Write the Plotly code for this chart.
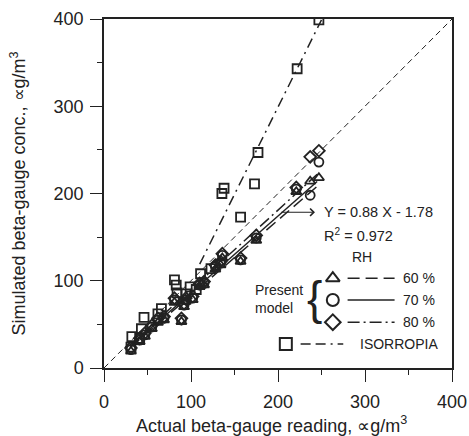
import plotly.graph_objects as go

# ---------------- data ----------------
# measured beta-gauge readings (x) shared by the present-model runs
actual = [31, 41, 47, 55, 62, 69, 81, 89, 92, 94, 102, 110, 115, 128, 134, 136, 157, 175, 221, 237, 247]
rh60 = [19, 30, 36, 45, 52, 55, 75, 53, 70, 76, 78, 93, 95, 113, 118, 126, 122, 146, 202, 214, 218]
rh70 = [21, 32, 38, 47, 55, 57, 78, 55, 72, 78, 80, 95, 97, 116, 120, 129, 124, 149, 205, 198, 236]
rh80 = [23, 34, 40, 49, 57, 59, 80, 57, 74, 80, 82, 97, 99, 118, 122, 131, 126, 152, 207, 242, 249]

iso_x = [31, 32, 41, 43, 46, 62, 66, 81, 83, 84, 94, 99, 106, 111, 123, 135.5, 138, 157, 173, 177, 222, 247]
iso_y = [24, 36, 34, 45, 58, 62, 68, 101, 95, 86, 85, 93, 90, 108, 114, 200, 206, 173, 211, 247, 343, 399]

# fitted lines: (slope, intercept, x start, x end)
fit60 = [0.86, -2.5, 30, 245]
fit70 = [0.88, -1.78, 30, 245]
fit80 = [0.91, -1.0, 30, 245]
fit_iso = [2.0, -101.0, 110, 250]
one_to_one = [0, 400]

tick_vals = [0, 100, 200, 300, 400]

INK = "#222222"
FONT = "Liberation Sans, Arial, sans-serif"

def line_pts(f):
    s, b, x0, x1 = f
    return [x0, x1], [s * x0 + b, s * x1 + b]

fig = go.Figure()

# 1:1 line
fig.add_trace(go.Scatter(x=one_to_one, y=one_to_one, mode="lines",
                         line=dict(color=INK, width=1, dash="6px,4px"), showlegend=False))

# fit lines
for f, dash in [(fit60, "12px,6px"), (fit70, "solid"), (fit80, "12px,4px,2px,4px")]:
    lx, ly = line_pts(f)
    fig.add_trace(go.Scatter(x=lx, y=ly, mode="lines",
                             line=dict(color=INK, width=1.5, dash=dash), showlegend=False))
lx, ly = line_pts(fit_iso)
fig.add_trace(go.Scatter(x=lx, y=ly, mode="lines",
                         line=dict(color=INK, width=1.5, dash="10px,5px,2px,5px"), showlegend=False))

# markers
mk = dict(color=INK, size=8, line=dict(color=INK, width=1.8))
fig.add_trace(go.Scatter(x=iso_x, y=iso_y, mode="markers",
                         marker=dict(mk, symbol="square-open", size=9), showlegend=False))
fig.add_trace(go.Scatter(x=actual, y=rh60, mode="markers",
                         marker=dict(mk, symbol="triangle-up-open", size=9), showlegend=False))
fig.add_trace(go.Scatter(x=actual, y=rh70, mode="markers",
                         marker=dict(mk, symbol="circle-open", size=9), showlegend=False))
fig.add_trace(go.Scatter(x=actual, y=rh80, mode="markers",
                         marker=dict(mk, symbol="diamond-open", size=9), showlegend=False))

# ---------------- legend (drawn inside the plot) ----------------
leg_labels = ["60 %", "70 %", "80 %"]
leg_symbols = ["triangle-up-open", "circle-open", "diamond-open"]
leg_dashes = ["12px,6px", "solid", "12px,4px,2px,4px"]
leg_y = [103, 78, 52.5]
for lab, sym, d, yy in zip(leg_labels, leg_symbols, leg_dashes, leg_y):
    fig.add_trace(go.Scatter(x=[263], y=[yy], mode="markers",
                             marker=dict(mk, symbol=sym, size=12, line=dict(color=INK, width=2)),
                             showlegend=False))
    fig.add_trace(go.Scatter(x=[280, 334], y=[yy, yy], mode="lines",
                             line=dict(color=INK, width=1.5, dash=d), showlegend=False))
    fig.add_annotation(x=341, y=yy, text=lab, showarrow=False, xanchor="left",
                       font=dict(size=14, color=INK, family=FONT))
fig.add_trace(go.Scatter(x=[209], y=[27.5], mode="markers",
                         marker=dict(mk, symbol="square-open", size=12, line=dict(color=INK, width=2)),
                         showlegend=False))
fig.add_trace(go.Scatter(x=[226, 275], y=[27.5, 27.5], mode="lines",
                         line=dict(color=INK, width=1.5, dash="10px,5px,10px,5px,2px,5px"),
                         showlegend=False))
fig.add_annotation(x=292, y=27.5, text="ISORROPIA", showarrow=False, xanchor="left",
                   font=dict(size=14, color=INK, family=FONT))
fig.add_annotation(x=297, y=127, text="RH", showarrow=False,
                   font=dict(size=14, color=INK, family=FONT))
fig.add_annotation(x=201, y=79, text="Present<br>model", showarrow=False, align="left",
                   font=dict(size=14, color=INK, family=FONT))
fig.add_annotation(x=242, y=80, text="{", showarrow=False,
                   font=dict(size=46, color=INK, family="Liberation Sans"))

# regression annotation
fig.add_annotation(x=242.5, y=178.5, ax=202, ay=178.5, axref="x", ayref="y",
                   xref="x", yref="y", text="", showarrow=True, arrowhead=4,
                   arrowsize=1.2, arrowwidth=1.2, arrowcolor=INK)
fig.add_annotation(x=250, y=178.5, text="Y = 0.88 X - 1.78", showarrow=False, xanchor="left",
                   font=dict(size=14.5, color=INK, family=FONT))
fig.add_annotation(x=250, y=152, text="R<sup>2</sup> = 0.972", showarrow=False, xanchor="left",
                   font=dict(size=14.5, color=INK, family=FONT))

# axis titles
fig.add_annotation(xref="paper", yref="paper", x=0.48, y=-0.163, yanchor="middle",
                   text="Actual beta-gauge reading, ∝g/m<sup>3</sup>", showarrow=False,
                   font=dict(size=18, color=INK, family=FONT))
fig.add_annotation(xref="paper", yref="paper", x=-0.247, y=0.5, xanchor="center",
                   textangle=-90, text="Simulated beta-gauge conc., ∝g/m<sup>3</sup>",
                   showarrow=False, font=dict(size=18, color=INK, family=FONT))

axis_common = dict(range=[0, 400], tickvals=tick_vals, ticks="outside", ticklen=12,
                   tickwidth=1.3, tickcolor=INK, showgrid=False, zeroline=False,
                   showline=True, linecolor=INK, linewidth=1.5, mirror=True, automargin=False,
                   tickfont=dict(size=18, color=INK, family=FONT),
                   minor=dict(dtick=50, ticks="outside", ticklen=5, tickwidth=1.3, tickcolor=INK,
                              showgrid=False))

fig.update_layout(
    width=469, height=436,
    margin=dict(l=103.5, r=16.5, t=18.5, b=68),
    plot_bgcolor="white", paper_bgcolor="white",
    xaxis=dict(axis_common, ticklabelstandoff=5),
    yaxis=dict(axis_common, ticklabelstandoff=3),
    font=dict(family=FONT, color=INK),
)

fig.write_html("out.html", config={"displayModeBar": False},
               post_script="document.body.style.margin='0';")
